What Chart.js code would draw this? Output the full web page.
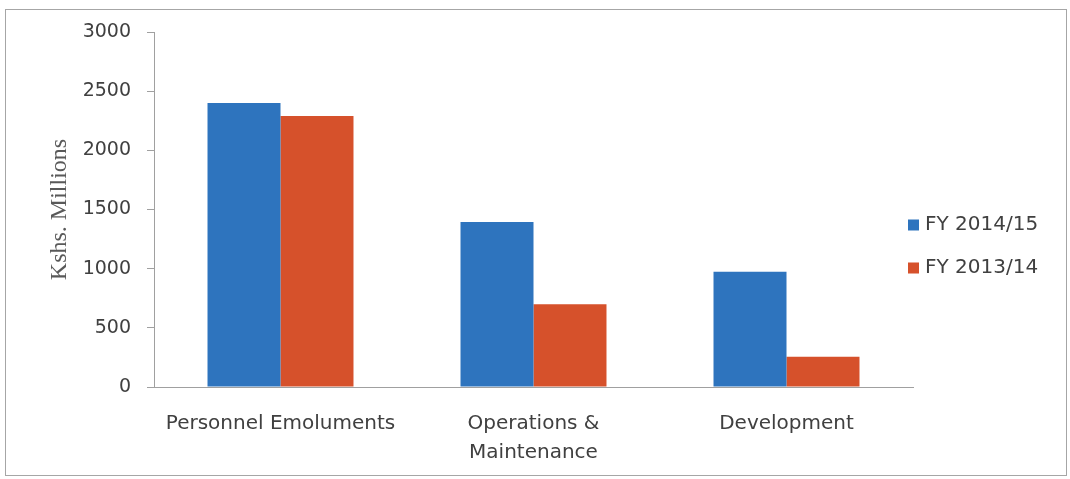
<!DOCTYPE html>
<html>
<head>
<meta charset="utf-8">
<script src="https://cdn.jsdelivr.net/npm/chart.js@4/dist/chart.umd.min.js"></script>
<style>
html,body{margin:0;padding:0;background:#fff;}
#wrap{position:relative;width:1070px;height:479px;}
#frame{position:absolute;left:5px;top:9px;width:1062px;height:467px;border:1px solid #a6a6a6;box-sizing:border-box;pointer-events:none;}
canvas{position:absolute;left:0;top:0;}
</style>
</head>
<body>
<div id="wrap">
<canvas id="c" width="1070" height="479"></canvas>
<div id="frame"></div>
</div>
<script>
const categories = ["Personnel Emoluments", ["Operations &", "Maintenance"], "Development"];
const seriesNames = ["FY 2014/15", "FY 2013/14"];
const fy2014_15 = [2400, 1395, 975];
const fy2013_14 = [2290, 700, 255];
const yTicks = [0, 500, 1000, 1500, 2000, 2500, 3000];
const colors = ["#2E74BE", "#D6512B"];
const textColor = "#404040";

const legendPlugin = {
  id: 'sideLegend',
  afterDraw(chart) {
    const ctx = chart.ctx;
    const x = 908, ys = [225, 268];
    ctx.save();
    ctx.font = '20px "DejaVu Sans"';
    ctx.textBaseline = 'middle';
    ctx.textAlign = 'left';
    chart.data.datasets.forEach((ds, i) => {
      ctx.fillStyle = ds.backgroundColor;
      ctx.fillRect(x, ys[i] - 5.5, 11, 11);
      ctx.fillStyle = textColor;
      ctx.fillText(ds.label, x + 17, ys[i]);
    });
    ctx.restore();
  }
};

new Chart(document.getElementById('c'), {
  type: 'bar',
  data: {
    labels: categories,
    datasets: [
      {label: seriesNames[0], data: fy2014_15, backgroundColor: colors[0]},
      {label: seriesNames[1], data: fy2013_14, backgroundColor: colors[1]}
    ]
  },
  options: {
    responsive: false,
    animation: false,
    events: [],
    layout: {padding: {left: 0, top: 32, right: 157, bottom: 0}},
    datasets: {bar: {categoryPercentage: 0.577, barPercentage: 1.0}},
    plugins: {legend: {display: false}, tooltip: {enabled: false}},
    scales: {
      x: {
        grid: {display: false, drawTicks: false},
        border: {display: true, color: '#a0a0a0', width: 1},
        ticks: {color: textColor, font: {family: "DejaVu Sans", size: 20, lineHeight: 1.45}, padding: 22, maxRotation: 0, autoSkip: false},
        afterFit(s) { s.height = 92; }
      },
      y: {
        min: 0, max: 3000,
        afterBuildTicks(s) { s.ticks = yTicks.map(v => ({value: v})); },
        grid: {display: true, drawOnChartArea: false, drawTicks: true, tickLength: 7, color: '#a0a0a0'},
        border: {display: true, color: '#a0a0a0', width: 1},
        ticks: {color: textColor, font: {family: "DejaVu Sans", size: 19}, padding: 16, callback: v => String(v)},
        title: {display: true, text: 'Kshs. Millions', color: '#595959', font: {family: "Liberation Serif", size: 24, lineHeight: 1.2}, padding: {top: 45, bottom: 0}},
        afterFit(s) { s.width = 154; }
      }
    }
  },
  plugins: [legendPlugin]
});
</script>
</body>
</html>
